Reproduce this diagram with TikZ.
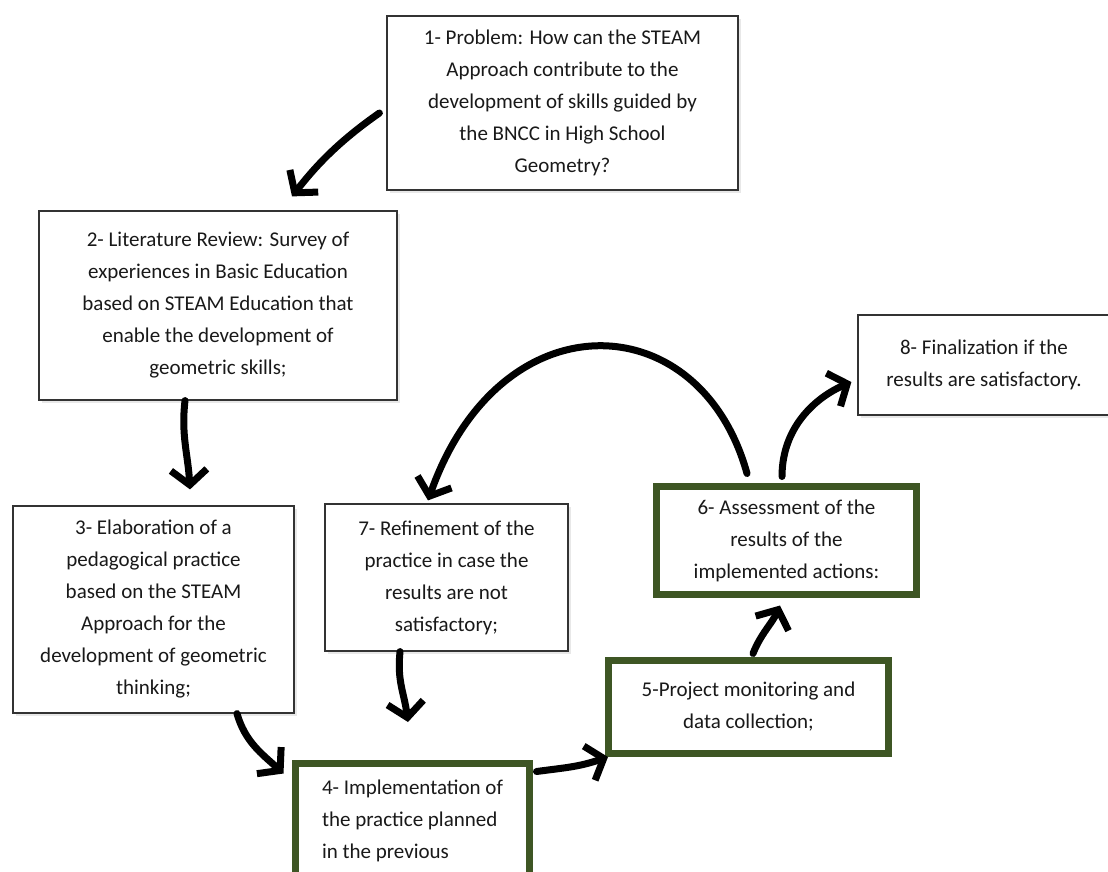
\documentclass[tikz,border=0pt]{standalone}
\usepackage{fontspec}
\setmainfont{Carlito}
\usepackage{tikz}
\usetikzlibrary{arrows.meta,shadows}
\definecolor{boxgreen}{RGB}{62,86,36}
\definecolor{txtgray}{RGB}{25,25,25}
\tikzset{
  boxtext/.style={align=center, inner sep=0pt, text=txtgray, font=\fontsize{21}{32}\selectfont},
  stepbox/.style={boxtext, draw=black!80, line width=1.2pt, fill=white,
    drop shadow={shadow xshift=3pt, shadow yshift=-3pt, opacity=0.18, fill=gray}},
  greenbox/.style={boxtext, draw=boxgreen, line width=7pt, fill=white},
  flow/.style={line width=7pt, line cap=round, -{Straight Barb[length=15pt,width=36pt]}}
}

\begin{document}
\begin{tikzpicture}[x=1pt,y=-1pt]
\path[use as bounding box, fill=white] (0,0) rectangle (1108,871);
\node[stepbox, minimum width=351pt, minimum height=174pt] (b1) at (562.5,103) {1- Problem: How can the STEAM\\Approach contribute to the\\development of skills guided by\\the BNCC in High School\\Geometry?};
\node[stepbox, minimum width=358pt, minimum height=189pt] (b2) at (218,305.5) {2- Literature Review: Survey of\\experiences in Basic Education\\based on STEAM Education that\\enable the development of\\geometric skills;};
\node[stepbox, minimum width=281pt, minimum height=207pt] (b3) at (153.5,609.5) {3- Elaboration of a\\pedagogical practice\\based on the STEAM\\Approach for the\\development of geometric\\thinking;};
\node[stepbox, minimum width=243pt, minimum height=147pt] (b7) at (446.5,577.5) {7- Refinement of the\\practice in case the\\results are not\\satisfactory;};
\node[greenbox, align=left, minimum width=234pt, minimum height=115pt] (b4) at (412.5,821) {4- Implementation of\\the practice planned\\in the previous};
\node[greenbox, minimum width=280pt, minimum height=93pt] (b5) at (748.5,707) {5-Project monitoring and\\data collection;};
\node[greenbox, minimum width=260pt, minimum height=108pt] (b6) at (786.5,540.5) {6- Assessment of the\\results of the\\implemented actions:};
\node[stepbox, minimum width=252pt, minimum height=100pt] (b8) at (984,365) {8- Finalization if the\\results are satisfactory.};
\coordinate (d7) at (408,722);
\draw[flow] ([shift={(-7,10)}]b1.west) .. controls +(-40,28) and +(25,-32) .. ([shift={(74,-14)}]b2.north);
\draw[flow] ([shift={(-33,0)}]b2.south) .. controls +(-4,35) and +(-2,-35) .. ([shift={(36.5,-16)}]b3.north);
\draw[flow] ([shift={(83.5,0)}]b3.south) .. controls +(8,28) and +(-22,-20) .. ([shift={(-8.5,13.5)}]b4.north west);
\draw[flow] ([shift={(-46.5,0)}]b7.south) .. controls +(-3,30) and +(-4,-30) .. (d7);
\draw[flow] ([shift={(3.5,11.5)}]b4.north east) .. controls +(30,-4) and +(-30,10) .. ([shift={(3,0)}]b5.south west);
\draw[flow] ([shift={(4.5,-3.5)}]b5.north) .. controls +(8,-20) and +(-8,18) .. ([shift={(-6.5,7.5)}]b6.south);
\draw[flow] ([shift={(-39.5,-9.5)}]b6.north) .. controls +(-47,-170) and +(72,-204) .. ([shift={(-18.5,-3)}]b7.north);
\draw[flow] ([shift={(-4.5,-6.5)}]b6.north) .. controls +(0,-50) and +(-35,15) .. ([shift={(-6,17)}]b8.west);
\end{tikzpicture}
\end{document}
